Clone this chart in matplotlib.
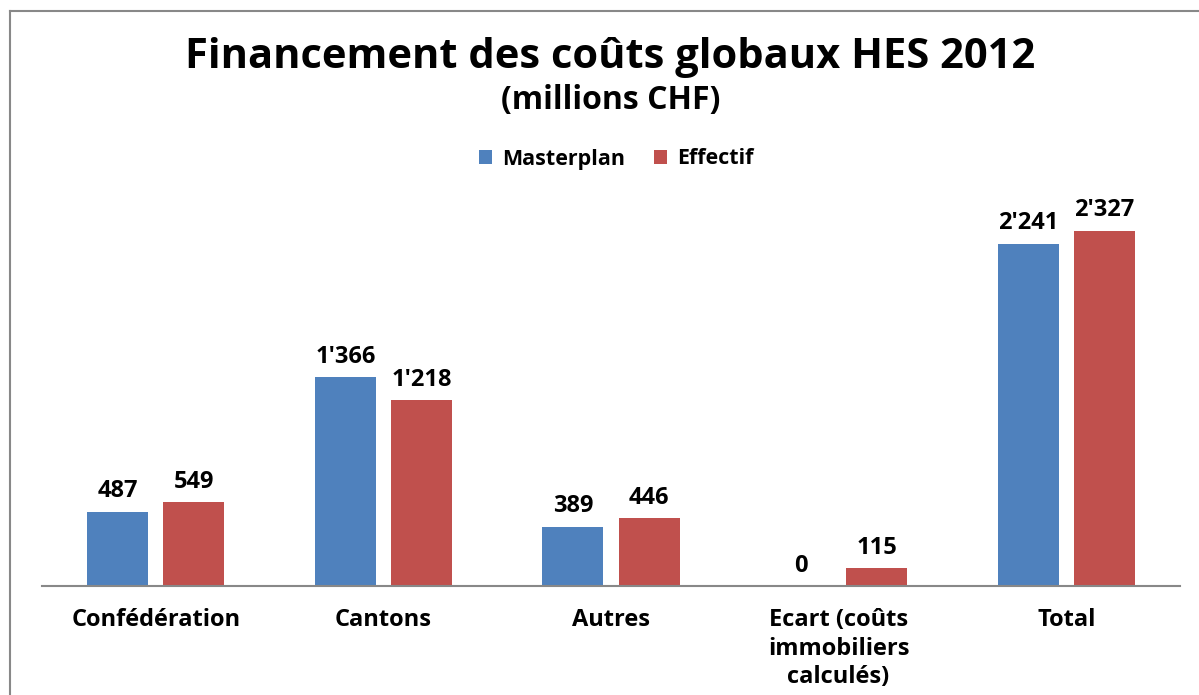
import numpy as np
import matplotlib.pyplot as plt
from matplotlib.lines import Line2D

plt.rcParams["font.family"] = ["Open Sans", "DejaVu Sans"]

# donnees
categories = ["Confédération", "Cantons", "Autres", "Ecart (coûts\nimmobiliers\ncalculés)", "Total"]
masterplan = [487, 1366, 389, 0, 2241]
effectif = [549, 1218, 446, 115, 2327]
labels_master = ["487", "1'366", "389", "0", "2'241"]
labels_eff = ["549", "1'218", "446", "115", "2'327"]

blue = "#4F81BD"
red = "#C0504D"

fig = plt.figure(figsize=(11.99, 6.95), dpi=100)
ax = fig.add_axes([42 / 1199, 109 / 695, 1138 / 1199, 397 / 695])

x = np.arange(len(categories))
w = 0.268
off = 0.167
b1 = ax.bar(x - off, masterplan, w, color=blue, label="Masterplan")
b2 = ax.bar(x + off, effectif, w, color=red, label="Effectif")

for rects, labs in [(b1, labels_master), (b2, labels_eff)]:
    for r, t in zip(rects, labs):
        ax.annotate(t, (r.get_x() + r.get_width() / 2, r.get_height()),
                    xytext=(0, 6), textcoords="offset points",
                    ha="center", va="bottom", fontsize=17, fontweight="bold")

ax.set_xlim(-0.5, len(categories) - 0.5)
ax.set_ylim(0, 2600)
ax.set_yticks([])
ax.set_xticks(x)
ax.set_xticklabels(categories, fontsize=17, fontweight="bold", linespacing=1.25)
ax.tick_params(axis="x", length=0, pad=16)
for s in ["top", "right", "left"]:
    ax.spines[s].set_visible(False)
ax.spines["bottom"].set_color("#888888")
ax.spines["bottom"].set_linewidth(1.5)

# titre
fig.text(0.509, 1 - 57 / 695, "Financement des coûts globaux HES 2012",
         ha="center", va="center", fontsize=30, fontweight="bold")
fig.text(0.509, 1 - 100 / 695, "(millions CHF)",
         ha="center", va="center", fontsize=23, fontweight="bold")

fig.legend(loc="center", bbox_to_anchor=(0.514, 1 - 159 / 695), ncol=2,
           frameon=False, handlelength=0.6, handleheight=0.6,
           columnspacing=1.3, handletextpad=0.5, prop={"weight": "bold", "size": 15.5})

# cadre
fig.add_artist(Line2D([10.5 / 1199, 10.5 / 1199], [0, 1 - 11 / 695], color="#888888", lw=1.5))
fig.add_artist(Line2D([10 / 1199, 1], [1 - 11 / 695, 1 - 11 / 695], color="#888888", lw=1.5))

plt.savefig("out.png", dpi=100)
